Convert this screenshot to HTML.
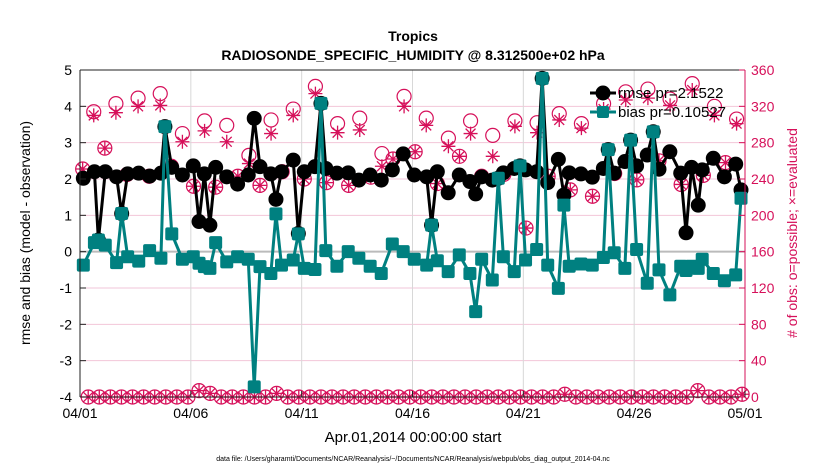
<!DOCTYPE html>
<html><head><meta charset="utf-8">
<style>
html,body{margin:0;padding:0;background:#fff;}
svg{display:block;font-family:"Liberation Sans",sans-serif;}
</style></head>
<body>
<svg id="chart" width="830" height="470" viewBox="0 0 830 470" xmlns="http://www.w3.org/2000/svg">
<rect x="0" y="0" width="830" height="470" fill="#fff"/>
<text x="413" y="41" text-anchor="middle" font-size="14" font-weight="bold">Tropics</text>
<text x="413" y="60" text-anchor="middle" font-size="14" font-weight="bold">RADIOSONDE_SPECIFIC_HUMIDITY @ 8.312500e+02 hPa</text>
<g id="grid"></g>
<g id="marks"></g>
<g id="axes"></g>
<text transform="translate(30,233) rotate(-90)" text-anchor="middle" font-size="14">rmse and bias (model - observation)</text>
<text transform="translate(797,233) rotate(-90)" text-anchor="middle" font-size="14" fill="#d6105a">#  of obs: o=possible; ×=evaluated</text>
<text x="413" y="442" text-anchor="middle" font-size="15">Apr.01,2014 00:00:00 start</text>
<text x="413" y="461" text-anchor="middle" font-size="7">data file: /Users/gharamti/Documents/NCAR/Reanalysis/~/Documents/NCAR/Reanalysis/webpub/obs_diag_output_2014-04.nc</text>
<g id="legend">
  <line x1="590" y1="93" x2="616" y2="93" stroke="#000" stroke-width="3"/>
  <circle cx="603" cy="93" r="7.5" fill="#000"/>
  <text x="618" y="98" font-size="15">rmse pr=2.1522</text>
  <line x1="590" y1="112" x2="616" y2="112" stroke="#008080" stroke-width="3"/>
  <rect x="597" y="106" width="12" height="12" rx="2" fill="#008080"/>
  <text x="618" y="117" font-size="15">bias pr=0.10527</text>
</g>
</svg>
<script>
// ---- data ----
const mDays = [0.15,0.65,0.83,1.14,1.65,1.88,2.15,2.65,3.14,3.65,3.83,4.14,4.62,5.11,5.37,5.61,5.86,6.12,6.62,7.11,7.59,
 7.86,8.12,8.61,8.84,9.09,9.62,9.85,10.12,10.6,10.87,11.09,11.59,12.1,12.58,13.09,13.59,14.09,14.58,15.08,
 15.64,15.86,16.12,16.61,17.11,17.59,17.85,18.12,18.6,18.87,19.1,19.59,19.85,20.1,20.6,20.85,21.1,21.58,21.83,22.07,22.6,
 23.11,23.61,23.83,24.1,24.58,24.84,25.11,25.59,25.86,26.12,26.61,27.1,27.34,27.59,27.89,28.07,28.57,29.07,29.58,29.82];
const rmse = [2.02,2.20,0.32,2.20,2.06,1.05,2.14,2.16,2.08,2.16,3.44,2.32,2.11,2.36,0.83,2.14,0.73,2.32,2.06,1.86,2.11,
 3.67,2.34,2.14,1.44,2.20,2.52,0.50,2.20,2.34,4.08,2.29,2.16,2.17,1.97,2.11,1.97,2.25,2.69,2.11,
 2.06,0.73,2.20,1.62,2.11,1.93,1.59,2.06,1.97,2.02,2.17,2.29,2.36,2.25,2.20,4.77,1.90,2.54,1.56,2.17,2.14,
 2.05,2.29,2.81,2.16,2.48,3.07,2.36,2.66,3.30,2.27,2.75,2.16,0.52,2.32,1.28,2.25,2.57,2.06,2.41,1.70];
const bias = [-0.37,0.25,0.32,0.18,-0.30,1.05,-0.14,-0.26,0.03,-0.18,3.44,0.49,-0.21,-0.14,-0.32,-0.41,-0.46,0.25,-0.28,-0.14,-0.21,
 -3.72,-0.41,-0.60,1.04,-0.37,-0.23,0.49,-0.46,-0.49,4.08,0.03,-0.40,0.00,-0.18,-0.40,-0.60,0.21,0.00,-0.21,
 -0.37,0.73,-0.25,-0.55,-0.09,-0.60,-1.65,-0.21,-0.78,2.02,-0.14,-0.55,2.36,-0.23,0.06,4.77,-0.37,-1.01,1.28,-0.40,-0.34,
 -0.37,-0.16,2.81,-0.03,-0.46,3.07,0.06,-0.87,3.30,-0.50,-1.19,-0.40,-0.52,-0.40,-0.46,-0.21,-0.60,-0.80,-0.64,1.47];
const possible = [251,314,274,323,245,329,243,334,254,290,232,304,231,299,243,266,
 233,305,248,317,240,342,236,301,233,307,242,268,262,331,270,
 307,235,285,265,304,243,288,245,304,186,302,243,312,228,301,
 221,323,246,336,239,339,260,328,234,345,244,320,258,306];
const evaluated = [251,310,274,313,245,320,243,321,254,281,232,293,231,281,243,257,
 233,290,248,310,240,334,236,291,233,294,242,254,262,320,270,
 299,235,276,265,290,243,265,245,298,186,291,243,305,228,296,
 221,317,246,327,239,329,260,321,234,338,244,310,258,301];
const lowCounts = [0,0,0,0,0,0,0,0,0,0,7,4,0,0,0,0,0,4,0,0,0,0,0,0,0,0,0,0,0,0,
 0,0,0,0,0,0,0,0,0,0,0,0,0,3,0,0,0,0,0,0,0,0,0,0,0,7,0,0,0,3];
const xTickLabels = ["04/01","04/06","04/11","04/16","04/21","04/26","05/01"];
const xTickDays = [0,5,10,15,20,25,30];
const leftTicks = [-4,-3,-2,-1,0,1,2,3,4,5];
const rightTicks = [0,40,80,120,160,200,240,280,320,360];

// ---- scales ----
const X0=80,X1=745,Y0=70,Y1=397;
const xs = d => X0 + d/30*(X1-X0);
const yl = v => Y1 - (v+4)/9*(Y1-Y0);
const yr = c => Y1 - c/360*(Y1-Y0);
const NS="http://www.w3.org/2000/svg";
function mk(parent,tag,attrs){const e=document.createElementNS(NS,tag);for(const k in attrs)e.setAttribute(k,attrs[k]);parent.appendChild(e);return e;}
const grid=document.getElementById('grid'), marks=document.getElementById('marks'), axes=document.getElementById('axes');
const MAG="#d6105a";

// grid
rightTicks.forEach(c=>{const l=mk(grid,'line',{x1:X0,x2:X1,y1:yr(c),y2:yr(c),stroke:'#f2c6d8','stroke-width':1});

});
xTickDays.forEach(d=>{const l=mk(grid,'line',{x1:xs(d),x2:xs(d),y1:Y0,y2:Y1,stroke:'#d8d8d8','stroke-width':1});

});
const zl=mk(grid,'line',{x1:X0,x2:X1,y1:yl(0),y2:yl(0),stroke:'#bbb','stroke-width':2});



// counts (magenta)
function star(g,cx,cy,r){let d='';for(let i=0;i<4;i++){const a=i*Math.PI/4;d+=`M${cx-r*Math.cos(a)},${cy-r*Math.sin(a)}L${cx+r*Math.cos(a)},${cy+r*Math.sin(a)}`;}
return mk(g,'path',{d:d,stroke:MAG,'stroke-width':1.3,fill:'none'});}
possible.forEach((c,k)=>{const d=0.12+0.5*k;const e=mk(marks,'circle',{cx:xs(d),cy:yr(c),r:7,fill:'none',stroke:MAG,'stroke-width':1.2});

});
evaluated.forEach((c,k)=>{const d=0.12+0.5*k;const e=star(marks,xs(d),yr(c),7);

});
lowCounts.forEach((c,j)=>{const d=0.37+0.5*j;const e=mk(marks,'circle',{cx:xs(d),cy:yr(c),r:7,fill:'none',stroke:MAG,'stroke-width':1.2});


const s=star(marks,xs(d),yr(c),7);

});

// rmse
const rl=mk(marks,'polyline',{points:mDays.map((d,i)=>xs(d)+','+yl(rmse[i])).join(' '),fill:'none',stroke:'#000','stroke-width':3});


mDays.forEach((d,i)=>{const e=mk(marks,'circle',{cx:xs(d),cy:yl(rmse[i]),r:7.5,fill:'#000'});

});
// bias
const bl=mk(marks,'polyline',{points:mDays.map((d,i)=>xs(d)+','+yl(bias[i])).join(' '),fill:'none',stroke:'#008080','stroke-width':3});


mDays.forEach((d,i)=>{const e=mk(marks,'rect',{x:xs(d)-6.5,y:yl(bias[i])-6.5,width:13,height:13,rx:2,fill:'#008080'});

});

// axes frame
mk(axes,'line',{x1:X0,x2:X1,y1:Y0,y2:Y0,stroke:'#222','stroke-width':1});
mk(axes,'line',{x1:X0,x2:X1,y1:Y1,y2:Y1,stroke:'#222','stroke-width':1});
mk(axes,'line',{x1:X0,x2:X0,y1:Y0,y2:Y1,stroke:'#222','stroke-width':1});
mk(axes,'line',{x1:X1,x2:X1,y1:Y0,y2:Y1,stroke:MAG,'stroke-width':1});
leftTicks.forEach(v=>{mk(axes,'line',{x1:X0,x2:X0+6,y1:yl(v),y2:yl(v),stroke:'#222'});
const t=mk(axes,'text',{x:X0-8,y:yl(v)+5,'text-anchor':'end','font-size':14});t.textContent=v;

});
rightTicks.forEach(c=>{mk(axes,'line',{x1:X1-6,x2:X1,y1:yr(c),y2:yr(c),stroke:MAG});
const t=mk(axes,'text',{x:X1+6,y:yr(c)+5,'font-size':14,fill:MAG});t.textContent=c;

});
xTickDays.forEach((d,i)=>{mk(axes,'line',{x1:xs(d),x2:xs(d),y1:Y1-6,y2:Y1,stroke:'#222'});
const t=mk(axes,'text',{x:xs(d),y:Y1+21,'text-anchor':'middle','font-size':14});t.textContent=xTickLabels[i];

});
</script>
</body></html>
